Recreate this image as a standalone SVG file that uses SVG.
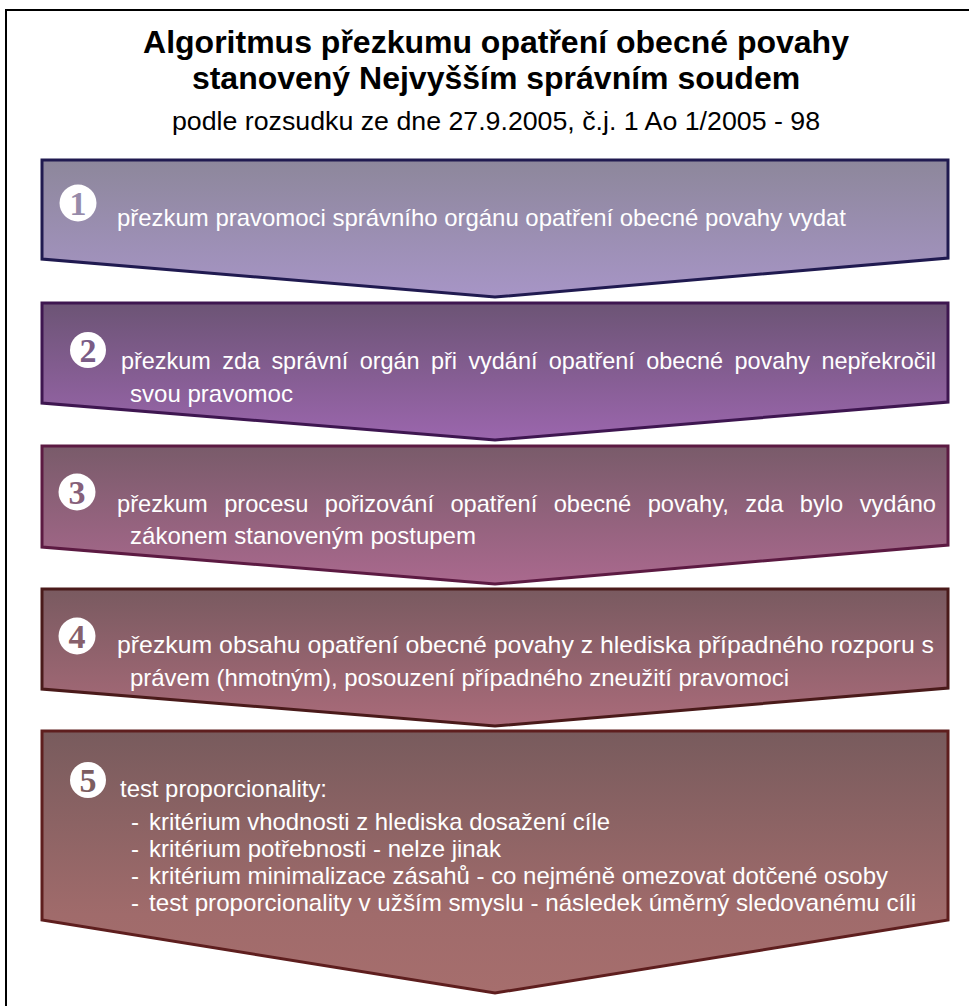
<svg xmlns="http://www.w3.org/2000/svg" width="969" height="1006" viewBox="0 0 969 1006">
<defs>
<linearGradient id="g1" x1="0" y1="0" x2="0" y2="1"><stop offset="0" stop-color="#8D879B"/><stop offset="1" stop-color="#A795C6"/></linearGradient>
<linearGradient id="g2" x1="0" y1="0" x2="0" y2="1"><stop offset="0" stop-color="#6C5475"/><stop offset="1" stop-color="#9B66AD"/></linearGradient>
<linearGradient id="g3" x1="0" y1="0" x2="0" y2="1"><stop offset="0" stop-color="#795B6A"/><stop offset="1" stop-color="#AA698E"/></linearGradient>
<linearGradient id="g4" x1="0" y1="0" x2="0" y2="1"><stop offset="0" stop-color="#795A60"/><stop offset="1" stop-color="#AA6B7A"/></linearGradient>
<linearGradient id="g5" x1="0" y1="0" x2="0" y2="1"><stop offset="0" stop-color="#785B5D"/><stop offset="0.7" stop-color="#A06B6B"/><stop offset="1" stop-color="#A66E6D"/></linearGradient>
</defs>
<style>
.t{font-family:"Liberation Sans",Arial,sans-serif;fill:#000}
.title{font-size:32px;font-weight:bold;text-anchor:middle}
.sub{font-size:26px;text-anchor:middle}
.b{font-family:"Liberation Sans",Arial,sans-serif;font-size:24px;fill:#fff}
.num{font-family:"Liberation Serif","Times New Roman",serif;font-size:34px;font-weight:bold;text-anchor:middle}
.shape{stroke-width:3;stroke-linejoin:miter}
</style>
<rect width="969" height="1006" fill="#fff"/>
<path d="M6 1006 V10 H969" fill="none" stroke="#000" stroke-width="2"/>
<g id="title">
<text class="t title" x="496" y="53">Algoritmus přezkumu opatření obecné povahy</text>
<text class="t title" x="496" y="89">stanovený Nejvyšším správním soudem</text>
<text class="t sub" x="496" y="130" textLength="648" lengthAdjust="spacingAndGlyphs">podle rozsudku ze dne 27.9.2005, č.j. 1 Ao 1/2005 - 98</text>
</g>
<g id="connectors"/>
<g id="step1">
<polygon class="shape" points="42,160 948,160 948,258 495,297 42,259" fill="url(#g1)" stroke="#201A50"/>
<circle cx="78" cy="203" r="18.5" fill="#fff"/>
<text class="num" x="78" y="215" fill="#978BAA">1</text>
<text class="b" x="117" y="226" textLength="729" lengthAdjust="spacingAndGlyphs">přezkum pravomoci správního orgánu opatření obecné povahy vydat</text>
</g>
<g id="step2">
<polygon class="shape" points="42,303 948,303 948,402 495,440 42,403" fill="url(#g2)" stroke="#3E1650"/>
<circle cx="88" cy="350" r="18" fill="#fff"/>
<text class="num" x="88" y="362" fill="#7A5C86">2</text>
<text class="b" x="121" y="369" word-spacing="5" textLength="815" lengthAdjust="spacingAndGlyphs">přezkum zda správní orgán při vydání opatření obecné povahy nepřekročil</text>
<text class="b" x="130" y="402" textLength="163" lengthAdjust="spacingAndGlyphs">svou pravomoc</text>
</g>
<g id="step3">
<polygon class="shape" points="42,446 948,446 948,545 495,584 42,547" fill="url(#g3)" stroke="#5C1A42"/>
<circle cx="77" cy="492" r="18.5" fill="#fff"/>
<text class="num" x="77" y="504" fill="#86607A">3</text>
<text class="b" x="117" y="512" word-spacing="10" textLength="819" lengthAdjust="spacingAndGlyphs">přezkum procesu pořizování opatření obecné povahy, zda bylo vydáno</text>
<text class="b" x="130" y="544" textLength="346" lengthAdjust="spacingAndGlyphs">zákonem stanoveným postupem</text>
</g>
<g id="step4">
<polygon class="shape" points="42,589 948,589 948,688 495,726 42,689" fill="url(#g4)" stroke="#4A1A1A"/>
<circle cx="77" cy="636" r="18.5" fill="#fff"/>
<text class="num" x="77" y="648" fill="#86606C">4</text>
<text class="b" x="117" y="653" textLength="817" lengthAdjust="spacingAndGlyphs">přezkum obsahu opatření obecné povahy z hlediska případného rozporu s</text>
<text class="b" x="130" y="686" textLength="659" lengthAdjust="spacingAndGlyphs">právem (hmotným), posouzení případného zneužití pravomoci</text>
</g>
<g id="step5">
<polygon class="shape" points="42,731 948,731 948,920 495,993 42,920" fill="url(#g5)" stroke="#5E1E1E"/>
<circle cx="88" cy="780" r="18" fill="#fff"/>
<text class="num" x="88" y="792" fill="#7C5D60">5</text>
<text class="b" x="120" y="797" textLength="207" lengthAdjust="spacingAndGlyphs">test proporcionality:</text>
<text class="b" x="131" y="830">-</text>
<text class="b" x="149" y="830" textLength="461" lengthAdjust="spacingAndGlyphs">kritérium vhodnosti z hlediska dosažení cíle</text>
<text class="b" x="131" y="857">-</text>
<text class="b" x="149" y="857" textLength="352" lengthAdjust="spacingAndGlyphs">kritérium potřebnosti - nelze jinak</text>
<text class="b" x="131" y="884">-</text>
<text class="b" x="149" y="884" textLength="739" lengthAdjust="spacingAndGlyphs">kritérium minimalizace zásahů - co nejméně omezovat dotčené osoby</text>
<text class="b" x="131" y="911">-</text>
<text class="b" x="149" y="911" textLength="767" lengthAdjust="spacingAndGlyphs">test proporcionality v užším smyslu - následek úměrný sledovanému cíli</text>
</g>
</svg>
